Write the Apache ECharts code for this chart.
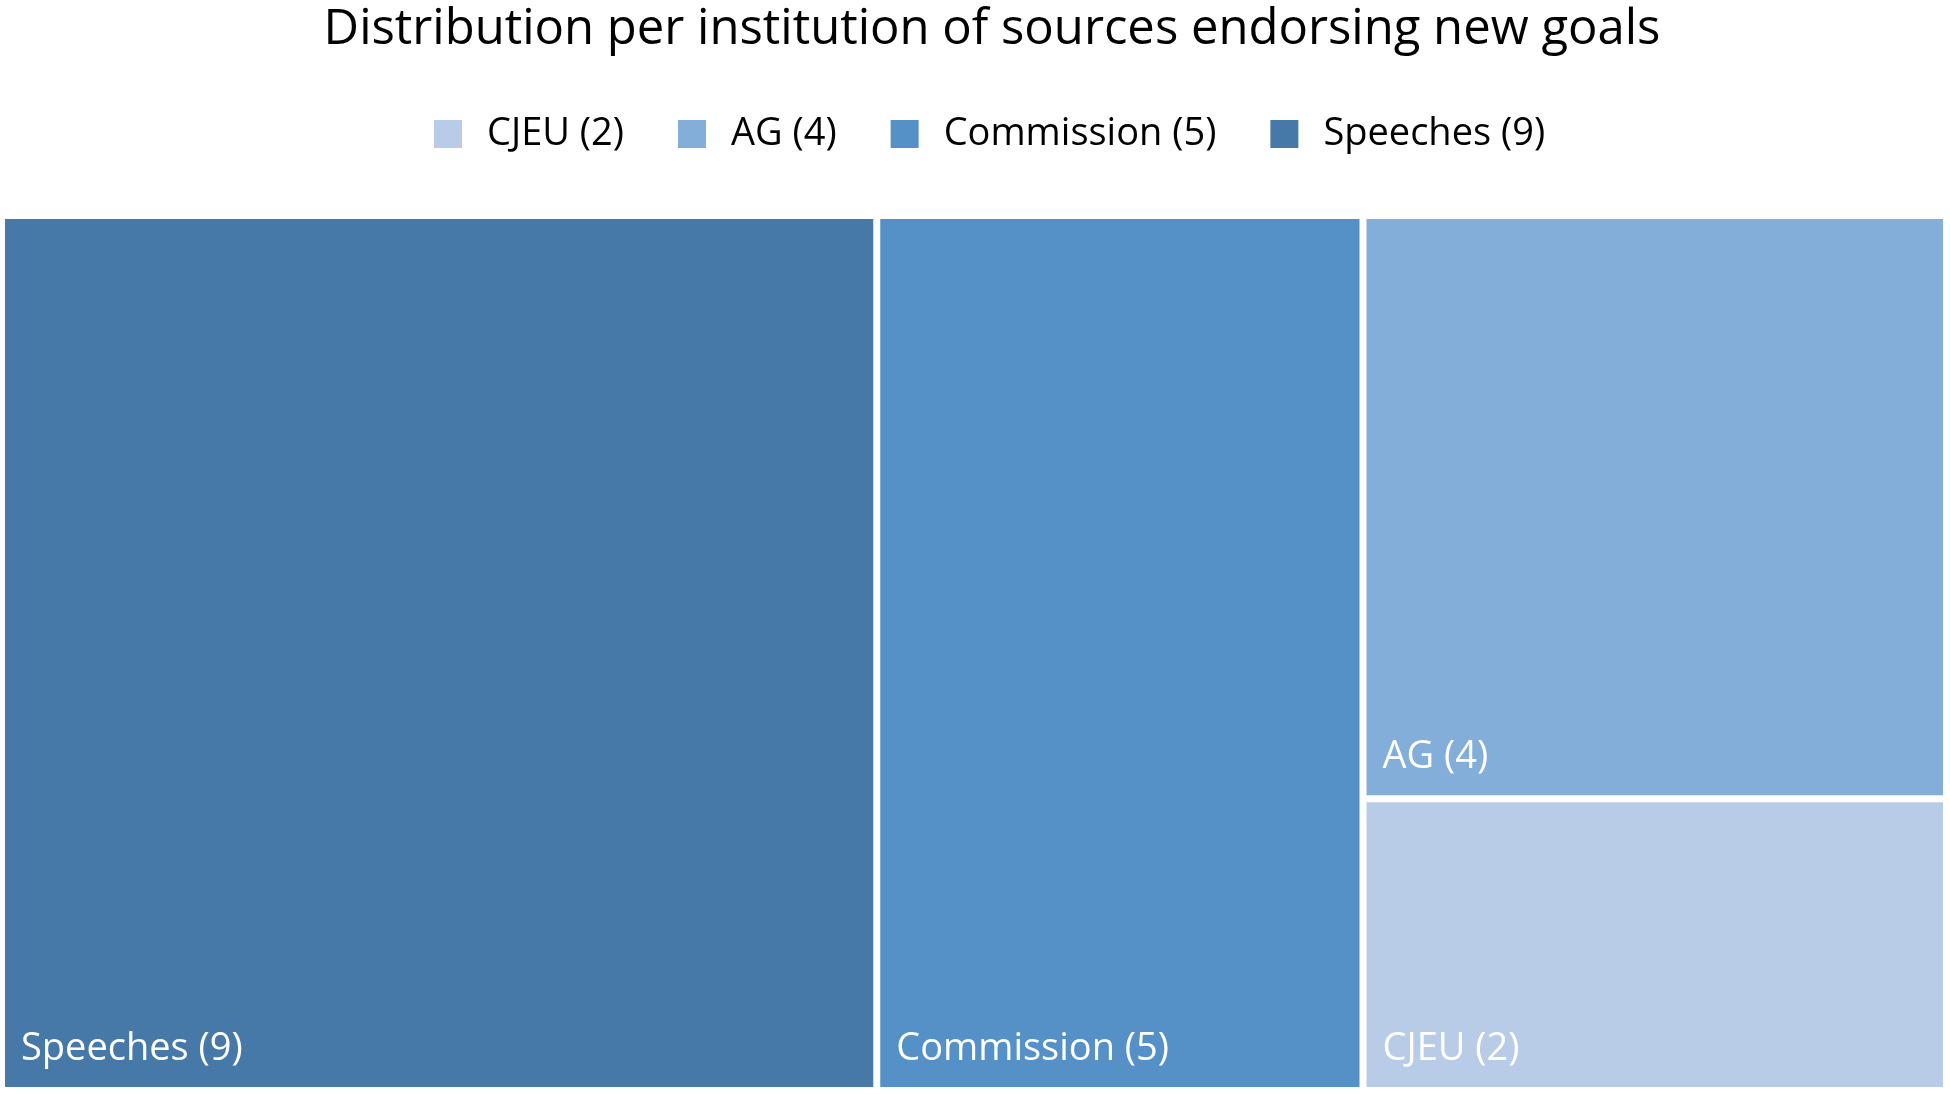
<!DOCTYPE html>
<html>
<head>
<meta charset="utf-8">
<script src="https://cdn.jsdelivr.net/npm/echarts@6/dist/echarts.min.js"></script>
<style>
html,body{margin:0;padding:0;background:#fff;}
#chart{width:1950px;height:1094px;}
</style>
</head>
<body>
<div id="chart"></div>
<script>
const titleText = "Distribution per institution of sources endorsing new goals";
const categories = ["CJEU (2)", "AG (4)", "Commission (5)", "Speeches (9)"];
const values = [2, 4, 5, 9];
const colors = ["#B8CCE7", "#83AED9", "#5591C6", "#4779A8"];

const FONT = "Open Sans";
const LEG_FS = 38, LEG_ICON = 28, LEG_PAD = 20, LEG_GAP = 54, LEG_CENTER = 985;

// center legend at the reference's centre using measured text widths
const mctx = document.createElement('canvas').getContext('2d');
mctx.font = LEG_FS + 'px "' + FONT + '"';
let legW = 0;
categories.forEach((c, i) => {
  legW += LEG_ICON + 5 + LEG_PAD + mctx.measureText(c).width;
  if (i > 0) legW += LEG_GAP;
});
const legLeft = Math.round(LEG_CENTER - legW / 2);

const chart = echarts.init(document.getElementById('chart'), null, {renderer: 'canvas'});

const treeData = categories.map((c, i) => ({
  name: c,
  value: values[i],
  itemStyle: {color: colors[i]}
}));

const legendSeries = categories.map((c, i) => ({
  type: 'scatter', name: c, data: [], itemStyle: {color: colors[i], opacity: 1}
}));

chart.setOption({
  animation: false,
  backgroundColor: '#ffffff',
  title: {
    text: titleText,
    left: 987, top: 1, textAlign: 'center',
    textStyle: {fontFamily: FONT, fontSize: 49, fontWeight: 'normal', color: '#000000'}
  },
  legend: {
    data: categories,
    top: 110, left: legLeft,
    icon: 'rect', itemWidth: LEG_ICON, itemHeight: LEG_ICON, itemGap: LEG_GAP,
    textStyle: {fontFamily: FONT, fontSize: LEG_FS, color: '#000000', padding: [0, 0, 0, LEG_PAD]}
  },
  grid: {left: 0, top: 0, width: 1, height: 1, show: false},
  xAxis: {show: false, type: 'value'},
  yAxis: {show: false, type: 'value'},
  series: [{
    type: 'treemap',
    left: 5, top: 219, width: 1938, height: 868,
    roam: false, nodeClick: false,
    breadcrumb: {show: false},
    sort: 'desc',
    squareRatio: 1,
    itemStyle: {borderWidth: 0, gapWidth: 7, borderColor: '#ffffff'},
    levels: [{itemStyle: {borderWidth: 0, gapWidth: 7, borderColor: '#ffffff'}}],
    label: {
      show: true, position: 'insideBottomLeft', distance: 0,
      padding: [0, 0, 19, 16],
      fontFamily: FONT, fontSize: 38, color: '#ffffff'
    },
    data: treeData
  }].concat(legendSeries)
});
</script>
</body>
</html>
